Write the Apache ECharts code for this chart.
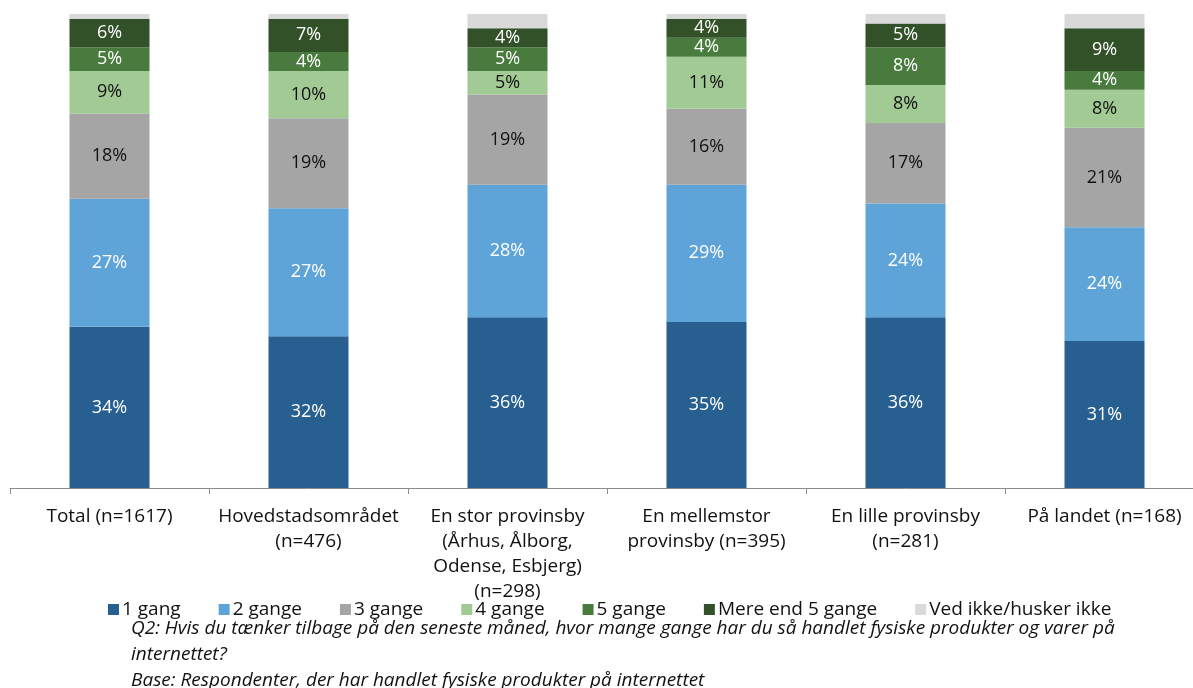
<!DOCTYPE html>
<html>
<head>
<meta charset="utf-8">
<script src="https://cdn.jsdelivr.net/npm/echarts@6/dist/echarts.min.js"></script>
<style>
  html, body { margin: 0; padding: 0; background: #fff; overflow: hidden; }
  /* the category axis runs a little past the right edge of the window */
  #chart { width: 1205px; height: 688px; }
</style>
</head>
<body>
<div id="chart"></div>
<script>
// Categories (area type, with sample size)
const categories = [
  'Total (n=1617)',
  'Hovedstadsområdet\n(n=476)',
  'En stor provinsby\n(Århus, Ålborg,\nOdense, Esbjerg)\n(n=298)',
  'En mellemstor\nprovinsby (n=395)',
  'En lille provinsby\n(n=281)',
  'På landet (n=168)'
];

// Share of respondents (%) per answer
const gang1      = [34, 32, 36, 35, 36, 31];
const gange2     = [27, 27, 28, 29, 24, 24];
const gange3     = [18, 19, 19, 16, 17, 21];
const gange4     = [9, 10, 5, 11, 8, 8];
const gange5     = [5, 4, 5, 4, 8, 4];
const mereEnd5   = [6, 7, 4, 4, 5, 9];
const vedIkke    = [1, 1, 3, 1, 2, 3];

const seriesNames = ['1 gang', '2 gange', '3 gange', '4 gange', '5 gange', 'Mere end 5 gange', 'Ved ikke/husker ikke'];
const seriesData = [gang1, gange2, gange3, gange4, gange5, mereEnd5, vedIkke];
const colors = ['#265f90', '#5fa4d8', '#a5a5a5', '#a2ca94', '#4a7b3e', '#325128', '#d9d9d9'];
const labelColors = ['#ffffff', '#ffffff', '#111111', '#111111', '#ffffff', '#ffffff', null];

const footnote = [
  'Q2: Hvis du tænker tilbage på den seneste måned, hvor mange gange har du så handlet fysiske produkter og varer på',
  'internettet?',
  'Base: Respondenter, der har handlet fysiske produkter på internettet'
];

const FONT = 'Open Sans';
const FS = 19;

const chart = echarts.init(document.getElementById('chart'));

const series = seriesNames.map((name, i) => ({
  name: name,
  type: 'bar',
  stack: 'total',
  barWidth: 80,
  data: seriesData[i],
  itemStyle: { color: colors[i] },
  label: labelColors[i] ? {
    show: true,
    position: 'inside',
    formatter: p => p.value + '%',
    color: labelColors[i],
    fontFamily: FONT,
    fontSize: 18
  } : { show: false },
  emphasis: { disabled: true }
}));

chart.setOption({
  animation: false,
  color: colors,
  grid: { left: 10, top: 14, width: 1194, height: 474, containLabel: false },
  xAxis: {
    type: 'category',
    data: categories,
    axisLine: { lineStyle: { color: '#8c8c8c', width: 1 } },
    axisTick: { show: true, length: 6, lineStyle: { color: '#8c8c8c' } },
    axisLabel: {
      interval: 0,
      margin: 16,
      color: '#111',
      fontFamily: FONT,
      fontSize: FS,
      lineHeight: 25
    }
  },
  yAxis: {
    type: 'value',
    min: 0,
    max: 100,
    show: false,
    splitLine: { show: false }
  },
  legend: {
    data: seriesNames,
    top: 595,
    left: 103,
    icon: 'rect',
    itemWidth: 11,
    itemHeight: 11,
    itemGap: 38,
    textStyle: { fontFamily: FONT, fontSize: FS, color: '#111', padding: [0, 0, 0, -2] }
  },
  graphic: footnote.map((t, i) => ({
    type: 'text',
    x: 131,
    y: 629 + i * 26,
    style: {
      text: t,
      font: 'italic ' + FS + 'px "' + FONT + '"',
      fill: '#111',
      verticalAlign: 'middle'
    }
  })),
  series: series
});
</script>
</body>
</html>
